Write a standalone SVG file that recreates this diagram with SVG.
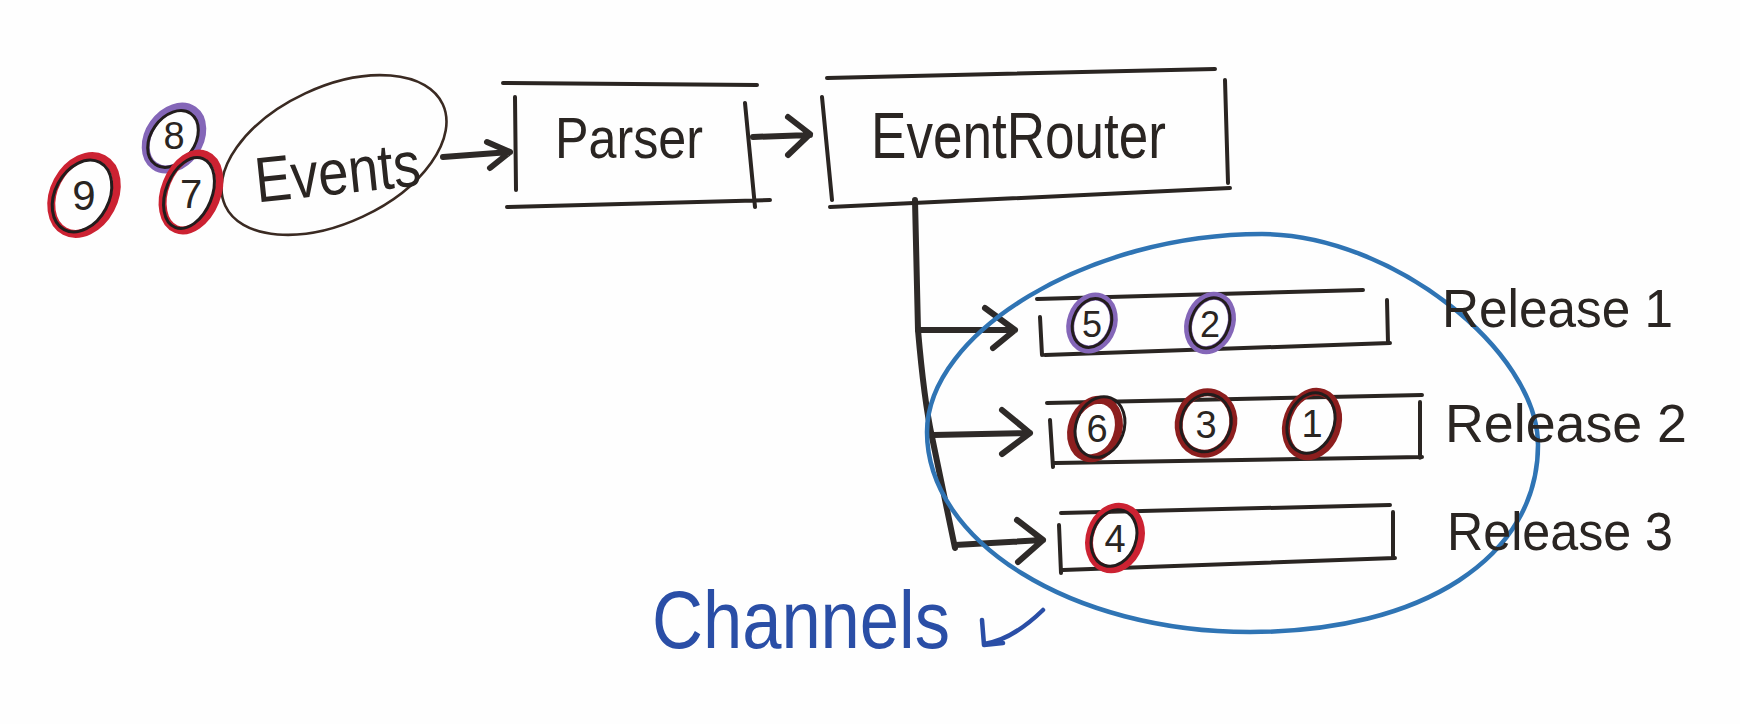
<svg xmlns="http://www.w3.org/2000/svg" width="1740" height="724" viewBox="0 0 1740 724">
<style>
  .ink{fill:none;stroke:#2a2522;stroke-width:4;stroke-linecap:round;stroke-linejoin:round}
  .thin{fill:none;stroke:#3a2a22;stroke-width:2.6}
  .conn{fill:none;stroke:#2e2a28;stroke-width:6;stroke-linecap:round;stroke-linejoin:round}
  .lbl{font-family:"Liberation Sans","DejaVu Sans",sans-serif;fill:#2a2522}
  .dig{font-family:"Liberation Sans","DejaVu Sans",sans-serif;fill:#2a2522;text-anchor:middle;dominant-baseline:central}
  .ring{fill:none;stroke-width:8}
  .in{fill:none;stroke:#221c1c;stroke-width:3}
  .red{stroke:#cc2232}
  .dred{stroke:#8c1e1e}
  .pur{stroke:#8466b8}
  .blue{fill:none;stroke:#2f74b4;stroke-width:4.5;stroke-linecap:round}
</style>
<rect width="1740" height="724" fill="#fefefe"/>

<g id="connectors">
  <path class="conn" d="M443 157 L510 152 M487 142 L510 152 L490 168"/>
  <path class="conn" stroke-width="7" d="M753 137 L810 135 M788 117 L810 134 L788 155"/>
  <path class="conn" d="M915 200 L918 330 Q924 400 932 437 L955 548"/>
  <path class="conn" d="M918 330 L1015 330 M985 308 L1015 330 L993 348"/>
  <path class="conn" d="M933 435 L1030 433 M1002 410 L1030 433 L1002 454"/>
  <path class="conn" d="M955 545 L1043 540 M1017 520 L1043 540 L1018 562"/>
</g>

<g id="events">
  <ellipse class="thin" cx="334" cy="155" rx="120" ry="68" transform="rotate(-25 334 155)"/>
  <text class="lbl" x="338" y="194" font-size="64" text-anchor="middle" textLength="166" lengthAdjust="spacingAndGlyphs" transform="rotate(-6 338 178)">Events</text>
</g>

<g id="parser">
  <path class="ink" d="M503 83 L757 85 M507 207 L770 200 M515 97 L516 190 M745 103 L755 207"/>
  <text class="lbl" x="555" y="158" font-size="57" textLength="148" lengthAdjust="spacingAndGlyphs">Parser</text>
</g>

<g id="eventrouter">
  <path class="ink" d="M827 78 L1215 69 M830 207 L1230 188 M822 97 L832 200 M1225 80 L1228 183"/>
  <text class="lbl" x="871" y="158" font-size="64" textLength="295" lengthAdjust="spacingAndGlyphs">EventRouter</text>
</g>

<g id="channels">
  <path class="blue" d="M1262 234 C1390 234 1538 350 1538 445 C1538 557 1423 632 1250 632 C1072 632 927 542 927 432 C927 333 1088 234 1262 234 Z"/>
  <text x="652" y="648" font-size="82" textLength="298" lengthAdjust="spacingAndGlyphs" style="font-family:'Liberation Sans','DejaVu Sans',sans-serif;fill:#2a4ea6">Channels</text>
  <path fill="none" stroke="#2a4ea6" stroke-width="4.5" stroke-linecap="round" stroke-linejoin="round" d="M1043 610 Q1012 640 984 644 M982 620 L984 645 L1003 643"/>
</g>

<g id="release1">
  <path class="ink" d="M1037 299 L1363 290 M1045 355 L1390 343 M1040 317 L1042 355 M1387 300 L1388 343"/>
  <text class="lbl" x="1442" y="327" font-size="54" textLength="231" lengthAdjust="spacingAndGlyphs">Release 1</text>
</g>

<g id="release2">
  <path class="ink" d="M1047 403 L1422 395 M1055 463 L1422 457 M1050 420 L1053 467 M1420 402 L1420 458"/>
  <text class="lbl" x="1445" y="442" font-size="54" textLength="242" lengthAdjust="spacingAndGlyphs">Release 2</text>
</g>

<g id="release3">
  <path class="ink" d="M1061 513 L1390 505 M1063 570 L1395 558 M1059 525 L1061 573 M1393 512 L1393 558"/>
  <text class="lbl" x="1447" y="550" font-size="54" textLength="226" lengthAdjust="spacingAndGlyphs">Release 3</text>
</g>

<g id="event-9">
  <ellipse class="ring red" cx="84" cy="195" rx="30" ry="41" transform="rotate(28 84 195)"/>
  <ellipse class="in" cx="82" cy="196" rx="27" ry="38" transform="rotate(28 82 196)"/>
  <text class="dig" x="84" y="195" font-size="42">9</text>
</g>
<g id="event-8">
  <ellipse class="ring pur" stroke="#6a4a9e" cx="174" cy="138" rx="25" ry="34" transform="rotate(35 174 138)"/>
  <ellipse class="in" cx="173" cy="139" rx="22" ry="31" transform="rotate(35 173 139)"/>
  <text class="dig" x="174" y="136" font-size="38">8</text>
</g>
<g id="event-7">
  <ellipse class="ring red" cx="191" cy="192" rx="26" ry="40" transform="rotate(22 191 192)"/>
  <ellipse class="in" cx="189" cy="193" rx="23" ry="37" transform="rotate(22 189 193)"/>
  <text class="dig" x="191" y="194" font-size="40">7</text>
</g>
<g id="event-5">
  <ellipse class="ring pur" cx="1092" cy="323" rx="21" ry="27" transform="rotate(20 1092 323)"/>
  <ellipse class="in" cx="1092" cy="323" rx="19" ry="25" transform="rotate(20 1092 323)"/>
  <text class="dig" x="1092" y="324" font-size="36">5</text>
</g>
<g id="event-2">
  <ellipse class="ring pur" cx="1210" cy="323" rx="21" ry="28" transform="rotate(20 1210 323)"/>
  <ellipse class="in" cx="1210" cy="323" rx="19" ry="26" transform="rotate(20 1210 323)"/>
  <text class="dig" x="1210" y="324" font-size="36">2</text>
</g>
<g id="event-6">
  <ellipse class="ring dred" cx="1095" cy="429" rx="23" ry="30" transform="rotate(20 1095 429)"/>
  <ellipse class="in" cx="1100" cy="427" rx="24" ry="31" transform="rotate(20 1100 427)"/>
  <text class="dig" x="1097" y="429" font-size="38">6</text>
</g>
<g id="event-3">
  <ellipse class="ring dred" cx="1206" cy="423" rx="27" ry="31" transform="rotate(15 1206 423)"/>
  <ellipse class="in" cx="1206" cy="423" rx="25" ry="29" transform="rotate(15 1206 423)"/>
  <text class="dig" x="1206" y="425" font-size="38">3</text>
</g>
<g id="event-1">
  <ellipse class="ring dred" cx="1312" cy="424" rx="25" ry="33" transform="rotate(20 1312 424)"/>
  <ellipse class="in" cx="1311" cy="423" rx="23" ry="31" transform="rotate(20 1311 423)"/>
  <text class="dig" x="1312" y="424" font-size="38">1</text>
</g>
<g id="event-4">
  <ellipse class="ring red" stroke="#d02a35" cx="1115" cy="538" rx="25" ry="32" transform="rotate(20 1115 538)"/>
  <ellipse class="in" cx="1114" cy="538" rx="22" ry="29" transform="rotate(20 1114 538)"/>
  <text class="dig" x="1115" y="539" font-size="38">4</text>
</g>
</svg>
